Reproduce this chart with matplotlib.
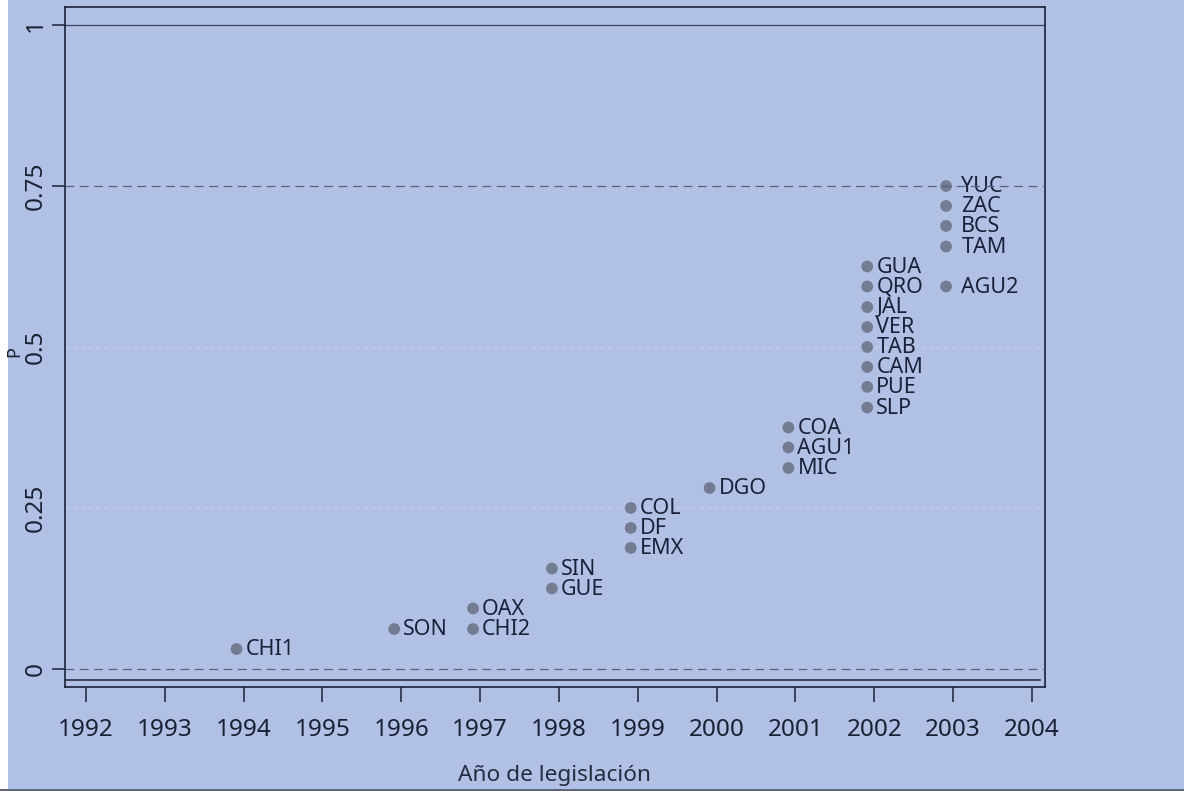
import matplotlib
matplotlib.use("Agg")
import matplotlib.pyplot as plt
from matplotlib.patches import Rectangle

plt.rcParams['font.family'] = ['Noto Sans', 'DejaVu Sans']

# ---- data ----
states = ["CHI1", "SON", "OAX", "CHI2", "SIN", "GUE", "COL", "DF", "EMX", "DGO",
          "COA", "AGU1", "MIC", "GUA", "QRO", "JAL", "VER", "TAB", "CAM", "PUE",
          "SLP", "YUC", "ZAC", "BCS", "TAM", "AGU2"]
years = [1994, 1996, 1997, 1997, 1998, 1998, 1999, 1999, 1999, 2000,
         2001, 2001, 2001, 2002, 2002, 2002, 2002, 2002, 2002, 2002,
         2002, 2003, 2003, 2003, 2003, 2003]
p_values = [0.031, 0.062, 0.094, 0.062, 0.156, 0.125, 0.250, 0.219, 0.188, 0.281,
            0.375, 0.344, 0.312, 0.625, 0.594, 0.562, 0.531, 0.500, 0.469, 0.438,
            0.406, 0.750, 0.719, 0.688, 0.656, 0.594]
x_ticks = list(range(1992, 2005))
y_ticks = [0, 0.25, 0.5, 0.75, 1]
y_ticklabels = ["0", "0.25", "0.5", "0.75", "1"]

# ---- style ----
BG = "#b1c1e5"
INK = "#1b2138"
PT = "#747c92"
W, H = 1184, 791

fig = plt.figure(figsize=(W / 100, H / 100), dpi=100, facecolor=BG)
ax = fig.add_axes([65 / W, 1 - 687 / H, (1045 - 65) / W, (687 - 7) / H])
ax.set_facecolor(BG)
ax.set_xlim(1991.734, 2004.165)
ax.set_ylim(-0.028, 1.028)

# reference lines
ax.axhline(1, color="#39415e", lw=0.9, zorder=1)
ax.axhline(-0.017, xmin=0, xmax=0.995, color=INK, lw=1.1, zorder=1)
for yv in (0.75, 0):
    ax.axhline(yv, color="#58627e", lw=0.9, ls=(0, (7, 4.5)), zorder=4)
# faint scan streaks
for yv in (0.5, 0.25):
    ax.axhline(yv, xmax=0.995, color="#bac7e6", lw=2.2, ls=(0, (1.5, 1)), zorder=0.5)

# points
x_shift = -0.09
xs = [y + x_shift for y in years]
ax.scatter(xs, p_values, s=72, color=PT, edgecolors="none", zorder=3)
for name, x, y, yr in zip(states, xs, p_values, years):
    pad = 11 if yr == 2003 else 6.5
    ax.annotate(name, (x, y), xytext=(pad, -0.5), textcoords="offset points",
                ha="left", va="center", fontsize=15.5, color=INK, zorder=3)

# axes styling
for sp in ax.spines.values():
    sp.set_color(INK)
    sp.set_linewidth(1.2)

ax.set_xticks(x_ticks)
ax.set_xticklabels([str(v) for v in x_ticks])
ax.set_yticks(y_ticks)
ax.set_yticklabels(y_ticklabels, rotation=90, va="center")
ax.tick_params(axis="x", length=10.5, width=1.1, color=INK, pad=12,
               labelsize=17.5, labelcolor="#1b2134")
ax.tick_params(axis="y", length=9.5, width=1.1, color=INK, pad=3,
               labelsize=17.5, labelcolor="#1b2134")
for i, t in enumerate(ax.yaxis.get_major_ticks()):
    if y_ticks[i] in (0.25, 0.5):
        t.tick1line.set_visible(False)

fig.text(555 / W, 1 - 775 / H, "Año de legislación", ha="center", va="center",
         fontsize=16.3, color="#262d40")

# scan borders
fig.patches.append(Rectangle((0, 0), 8 / W, 1, transform=fig.transFigure,
                             facecolor="white", edgecolor="none", zorder=2))
fig.patches.append(Rectangle((0, 0), 1, 2.5 / H, transform=fig.transFigure,
                             facecolor="#5f6678", edgecolor="none", zorder=2))

fig.text(14 / W, 1 - 352 / H, "P", ha="center", va="center", rotation=90,
         fontsize=13, color="#1b2134", zorder=20)

fig.savefig("out.png", dpi=100, facecolor=BG)
